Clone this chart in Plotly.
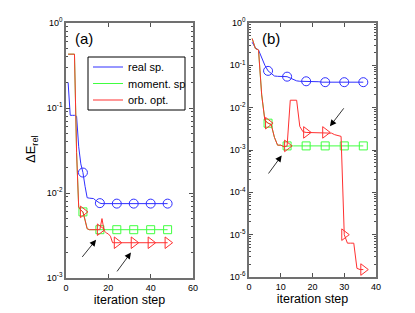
import plotly.graph_objects as go

# ---------------- data ----------------
iter_a = list(range(1, 49))
real_a = [0.2, 0.082, 0.082, 0.082, 0.08, 0.035, 0.022, 0.0174, 0.012, 0.0088,
          0.0087, 0.0087, 0.0086, 0.0082, 0.0078, 0.0076] + [0.0075] * 32
common_a = [0.43, 0.43, 0.43, 0.43, 0.03, 0.0068, 0.0063, 0.006, 0.0048, 0.0038,
            0.0037, 0.0037, 0.0037, 0.0037, 0.0037, 0.0037]
moment_a = common_a + [0.0037] * 32
orb_a = common_a + [0.005, 0.0036, 0.0034, 0.0033, 0.0031] + [0.0026] * 27
mark_a = [8, 16, 24, 32, 40, 48]

iter_b = list(range(1, 37))
real_b = [0.35, 0.26, 0.23, 0.15, 0.1, 0.074, 0.065, 0.056, 0.055, 0.055,
          0.055, 0.054, 0.05, 0.046, 0.043, 0.042, 0.042, 0.042, 0.041, 0.041,
          0.041, 0.041, 0.04, 0.04, 0.04, 0.04, 0.04, 0.04, 0.04, 0.04,
          0.04, 0.04, 0.04, 0.04, 0.04, 0.04]
common_b = [0.43, 0.25, 0.23, 0.02, 0.005, 0.0043, 0.004, 0.002, 0.0013, 0.0013,
            0.0012, 0.00125]
moment_b = common_b + [0.00125] * 24
orb_b = common_b + [0.015, 0.015, 0.015, 0.0036, 0.0027, 0.0026, 0.0026, 0.0026,
                    0.0026, 0.0026, 0.0026, 0.0026, 0.0026, 0.0025, 0.0023, 0.0022,
                    0.0021, 1.0e-5, 6.3e-6, 6.3e-6, 6.3e-6, 1.6e-6, 1.5e-6, 1.5e-6]
mark_b = [6, 12, 18, 24, 30, 36]

names = ["real sp.", "moment. sp", "orb. opt."]
colors = ["#3030ff", "#40ff40", "#ff3030"]
symbols = ["circle-open", "square-open", "triangle-right-open"]
msizes = [9, 8, 10]

ytick_a = [1e-3, 1e-2, 1e-1, 1]
ytext_a = ["10<sup>-3</sup>", "10<sup>-2</sup>", "10<sup>-1</sup>", "10<sup>0</sup>"]
ytick_b = [1e-6, 1e-5, 1e-4, 1e-3, 1e-2, 1e-1, 1]
ytext_b = ["10<sup>-6</sup>", "10<sup>-5</sup>", "10<sup>-4</sup>", "10<sup>-3</sup>",
           "10<sup>-2</sup>", "10<sup>-1</sup>", "10<sup>0</sup>"]

W, H = 415, 313
legend_ids = ["legend", "legend2", "legend3"]
legend_rows = [67, 83.5, 100]   # pixel rows of the three legend entries

fig = go.Figure()

panels = [
    ("x", "y", iter_a, [real_a, moment_a, orb_a], mark_a, True),
    ("x2", "y2", iter_b, [real_b, moment_b, orb_b], mark_b, False),
]
for xa, ya, xs, series, marks, leg in panels:
    for name, col, sym, ms, ys, lid in zip(names, colors, symbols, msizes, series,
                                           legend_ids):
        fig.add_trace(go.Scatter(x=xs, y=ys, mode="lines", name=name,
                                 line=dict(color=col, width=1),
                                 xaxis=xa, yaxis=ya, showlegend=leg, legend=lid))
        mx = [xs[i - 1] for i in marks]
        my = [ys[i - 1] for i in marks]
        fig.add_trace(go.Scatter(x=mx, y=my, mode="markers", name=name,
                                 marker=dict(symbol=sym, size=ms, color=col,
                                             line=dict(width=1, color=col)),
                                 xaxis=xa, yaxis=ya, showlegend=False))

def minor_vals(lo, hi):
    v = []
    for e in range(lo, hi):
        for d in range(2, 10):
            v.append(d * 10 ** e)
    return v

frame = dict(showline=True, linecolor="#707070", linewidth=1.5, mirror="ticks",
             ticks="inside", ticklen=4, tickcolor="#505050", showgrid=False,
             zeroline=False, tickfont=dict(size=9, color="black"), automargin=False)

legend_layout = {}
for lid, row in zip(legend_ids, legend_rows):
    legend_layout[lid] = dict(x=88 / W, y=1 - row / H, xanchor="left",
                              yanchor="middle", bgcolor="rgba(0,0,0,0)",
                              borderwidth=0, font=dict(size=11), itemwidth=30)

fig.update_layout(
    width=W, height=H,
    margin=dict(l=0, r=0, t=0, b=0, autoexpand=False),
    paper_bgcolor="white", plot_bgcolor="white",
    font=dict(family="Liberation Sans, Arial, sans-serif", color="black"),
    xaxis=dict(domain=[66 / W, 193 / W], range=[0, 60], tickvals=[0, 20, 40, 60],
               title=dict(text="iteration step", font=dict(size=12.5), standoff=2),
               anchor="y", **frame),
    yaxis=dict(domain=[1 - 278 / H, 1 - 23 / H], type="log", range=[-3, 0],
               tickvals=ytick_a, ticktext=ytext_a,
               minor=dict(tickvals=minor_vals(-3, 0), ticks="inside", ticklen=2,
                          tickcolor="#505050"),
               anchor="x", **frame),
    xaxis2=dict(domain=[249 / W, 376 / W], range=[0, 40],
                tickvals=[0, 10, 20, 30, 40],
                title=dict(text="iteration step", font=dict(size=12.5), standoff=2),
                anchor="y2", **frame),
    yaxis2=dict(domain=[1 - 277 / H, 1 - 23 / H], type="log", range=[-6, 0],
                tickvals=ytick_b, ticktext=ytext_b,
                minor=dict(tickvals=minor_vals(-6, 0), ticks="inside", ticklen=2,
                           tickcolor="#505050"),
                anchor="x2", **frame),
    showlegend=True,
    shapes=[dict(type="rect", xref="paper", yref="paper",
                 x0=88 / W, x1=185 / W, y0=1 - 110 / H, y1=1 - 57 / H,
                 line=dict(color="black", width=1), fillcolor="white", layer="above")],
    **legend_layout,
)

arrow = dict(showarrow=True, text="", arrowhead=2, arrowsize=1.6, arrowwidth=0.8,
             arrowcolor="black")
fig.add_annotation(x=14.2, y=-2.55, ax=7.1, ay=-2.77, xref="x", yref="y",
                   axref="x", ayref="y", **arrow)
fig.add_annotation(x=30.7, y=-2.70, ax=23.6, ay=-2.94, xref="x", yref="y",
                   axref="x", ayref="y", **arrow)
fig.add_annotation(x=10.3, y=-3.13, ax=5.8, ay=-3.59, xref="x2", yref="y2",
                   axref="x2", ayref="y2", **arrow)
fig.add_annotation(x=25.5, y=-2.44, ax=30.2, ay=-1.98, xref="x2", yref="y2",
                   axref="x2", ayref="y2", **arrow)

fig.add_annotation(x=73 / W, y=1 - 38 / H, xref="paper", yref="paper",
                   text="(a)", showarrow=False, xanchor="left", yanchor="middle",
                   font=dict(size=15))
fig.add_annotation(x=260 / W, y=1 - 38 / H, xref="paper", yref="paper",
                   text="(b)", showarrow=False, xanchor="left", yanchor="middle",
                   font=dict(size=15))
fig.add_annotation(x=31 / W, y=1 - 150 / H, xref="paper", yref="paper",
                   text="ΔE<sub>rel</sub>", showarrow=False, textangle=-90,
                   xanchor="center", yanchor="middle", font=dict(size=13))

fig.write_html("out.html",
               config={"displayModeBar": False},
               post_script="document.body.style.margin='0';"
                           "document.body.style.overflow='hidden';")
